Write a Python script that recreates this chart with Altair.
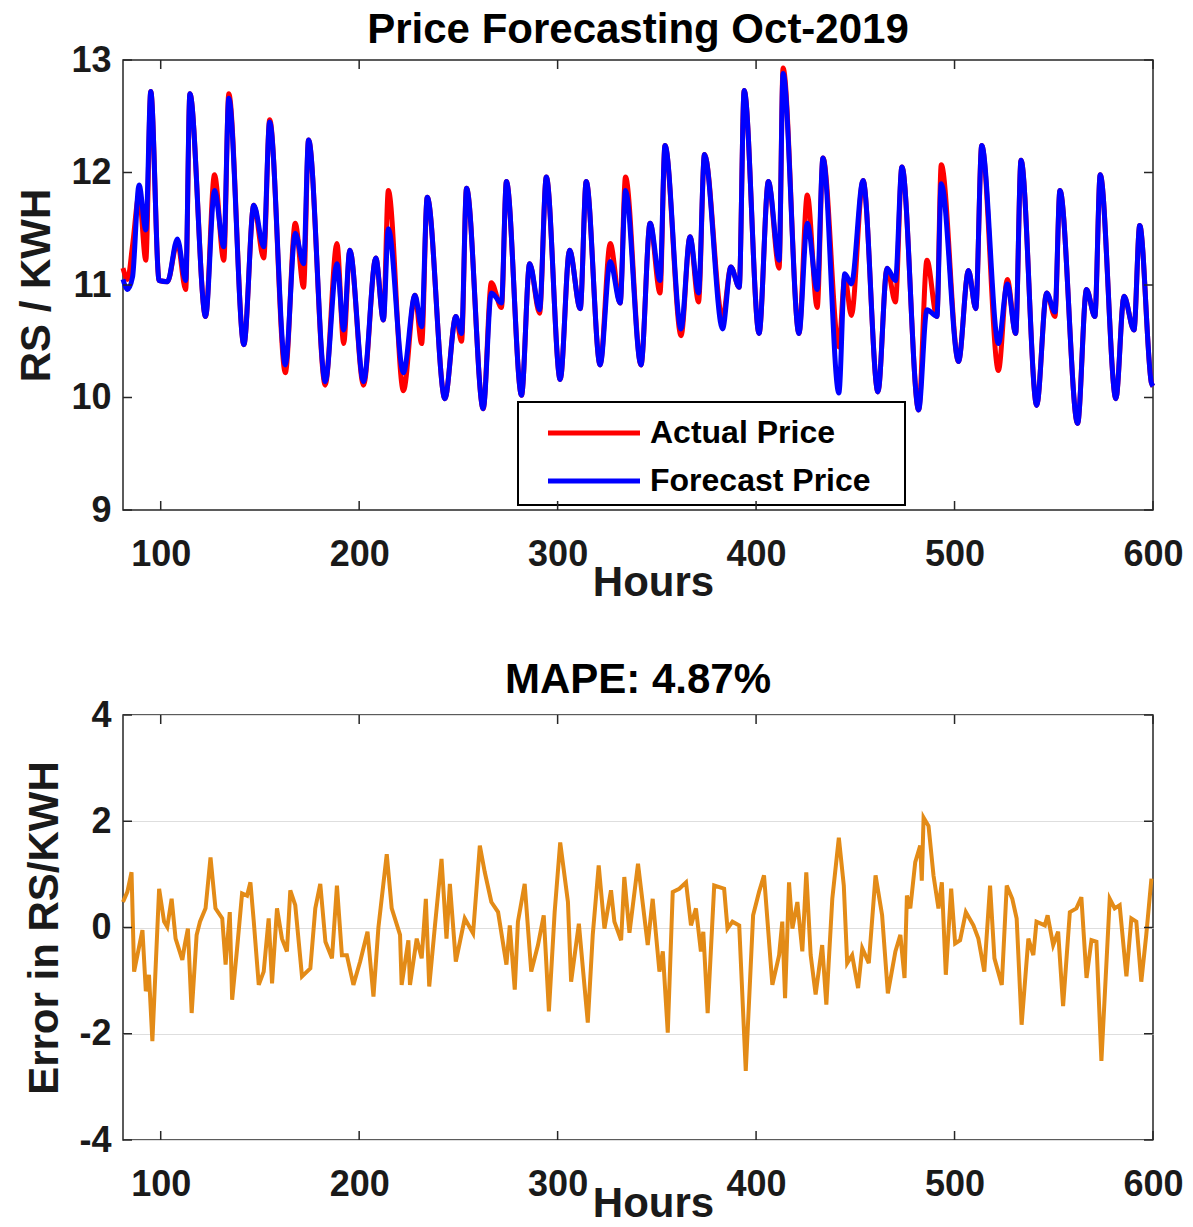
import altair as alt
import pandas as pd

# ---------------- data ----------------
price_hours = [81, 83.3, 85.8, 89.1, 92.5, 95, 99.2, 103.4, 108.4, 112.6, 114.7, 122.6, 127.1, 131.8, 134.3,
               141.9, 146.9, 151.9, 154.9, 162.8, 167.8, 172, 174.5, 182.9, 188.8, 192.2, 195.3, 202.2, 208.4,
               212.2, 214.7, 222.3, 228.1, 231.5, 234.3, 243.2, 248.7, 251.6, 254.1, 262.5, 266.6, 271.7, 274.2,
               281.8, 285.9, 290.9, 294.3, 301.3, 306, 311.4, 314.4, 321.4, 326.5, 331.5, 334.2, 342, 346.6,
               351.6, 354.1, 362.2, 366.7, 371.0, 374.0, 383.1, 387.3, 391.5, 394, 401.5, 406.2, 411.6, 413.6,
               421.6, 425.8, 430.8, 433.7, 441.7, 444.7, 448, 453.9, 461.4, 466, 470.2, 473.5, 481.9, 486.1,
               491.1, 493.3, 502, 507, 510.7, 513.7, 522.1, 526.6, 530.8, 533.5, 541.4, 546.4, 550.6, 553.1,
               562, 566.5, 570.7, 573.4, 581.3, 585.4, 590.4, 593.3, 599.2, 600]
forecast_price = [11.05, 10.96, 11.07, 11.89, 11.49, 12.72, 11.04, 11.03, 11.41, 11.04, 12.70, 10.72, 11.84, 11.34, 12.66,
                  10.47, 11.71, 11.34, 12.45, 10.29, 11.46, 11.19, 12.29, 10.14, 11.19, 10.60, 11.31, 10.14, 11.24,
                  10.69, 11.50, 10.22, 10.91, 10.63, 11.78, 9.99, 10.72, 10.57, 11.86, 9.90, 10.93, 10.84, 11.92,
                  10.02, 11.19, 10.78, 11.96, 10.16, 11.31, 10.79, 11.92, 10.29, 11.21, 10.84, 11.84, 10.29, 11.55,
                  11.04, 12.24, 10.61, 11.43, 10.93, 12.16, 10.61, 11.16, 10.98, 12.73, 10.57, 11.92, 11.22, 12.88,
                  10.57, 11.55, 10.96, 12.13, 10.04, 11.10, 11.01, 11.93, 10.05, 11.15, 11.04, 12.05, 9.89, 10.78,
                  10.72, 11.90, 10.32, 11.13, 10.79, 12.24, 10.48, 11.01, 10.57, 12.11, 9.93, 10.93, 10.76, 11.84,
                  9.77, 10.96, 10.72, 11.98, 9.99, 10.90, 10.60, 11.53, 10.13, 10.10]
actual_price = [11.15, 11.05, 11.35, 11.80, 11.22, 12.72, 11.04, 11.03, 11.38, 10.96, 12.70, 10.72, 11.98, 11.22, 12.70,
                10.47, 11.71, 11.24, 12.47, 10.22, 11.55, 10.98, 12.29, 10.11, 11.37, 10.48, 11.31, 10.11, 11.24,
                10.69, 11.84, 10.06, 10.91, 10.48, 11.78, 9.99, 10.72, 10.50, 11.86, 9.90, 11.02, 10.80, 11.92,
                10.02, 11.19, 10.75, 11.96, 10.16, 11.31, 10.79, 11.92, 10.29, 11.37, 10.84, 11.96, 10.29, 11.55,
                10.93, 12.24, 10.55, 11.43, 10.85, 12.16, 10.70, 11.16, 10.98, 12.73, 10.57, 11.92, 11.15, 12.93,
                10.57, 11.80, 10.80, 12.13, 10.45, 11.07, 10.73, 11.93, 10.05, 11.15, 10.85, 12.05, 9.89, 11.22,
                10.72, 12.07, 10.32, 11.13, 10.79, 12.24, 10.24, 11.05, 10.57, 12.11, 9.93, 10.93, 10.72, 11.84,
                9.77, 10.96, 10.72, 11.98, 9.99, 10.90, 10.60, 11.53, 10.13, 10.10]

error_hours = [81, 83.2, 85.3, 86.6, 90.8, 92.5, 94.1, 95.8, 99.2, 101.7, 103.3, 105.5, 107.5, 110.9, 112.1, 113.7,
               115.6, 118.1, 119.8, 122.6, 125.1, 127.6, 131.0, 132.7, 134.8, 136.0, 138.5, 141.0, 143.5, 145.2,
               146.9, 149.4, 151.9, 154.4, 156.1, 158.6, 161.1, 163.6, 165.3, 167.8, 171.2, 175.4, 177.9, 180.4,
               183.0, 186.3, 188.8, 191.3, 193.8, 197.1, 200.5, 204.2, 207.2, 209.7, 213.9, 216.4, 220.6, 221.4,
               224.8, 225.6, 229.0, 231.5, 233.6, 235.3, 238.2, 241.5, 244.0, 245.7, 248.7, 253.2, 257.4, 260.8,
               263.3, 266.6, 270.0, 274.2, 275.9, 278.4, 280.0, 283.4, 286.7, 290.1, 293.0, 295.6, 298.5, 301.3,
               305.2, 306.8, 310.7, 315.2, 317.7, 320.7, 323.6, 326.9, 328.6, 332.0, 333.6, 336.2, 340.5, 345.4,
               347.9, 351.3, 353.0, 355.5, 358.0, 361.3, 364.7, 367.2, 369.7, 372.2, 373.4, 375.6, 378.9, 383.9,
               385.6, 388.1, 391.5, 394.8, 398.5, 401.5, 404.0, 408.2, 411.6, 413.2, 414.6, 416.6, 418.3, 420.8,
               423.3, 425.3, 427.5, 430.0, 433.3, 435.4, 438.4, 441.7, 444.2, 445.9, 448.4, 451.4, 453.5, 456.8,
               460.2, 463.5, 466.4, 470.2, 472.7, 474.8, 476.0, 477.7, 480.2, 482.7, 483.5, 484.4, 486.9, 489.4,
               491.9, 493.6, 495.6, 498.3, 500.3, 502.8, 505.7, 509.5, 512.0, 515.0, 517.9, 520.1, 523.8, 526.3,
               529.1, 531.3, 533.8, 537.2, 539.7, 541.3, 545.5, 546.9, 549.7, 552.2, 554.7, 558.1, 561.4, 563.9,
               566.5, 569.0, 571.5, 574.0, 578.2, 580.7, 583.2, 586.6, 589.1, 591.6, 594.1, 596.6, 599.2]
error_values = [0.48, 0.67, 1.04, -0.83, -0.05, -1.20, -0.89, -2.14, 0.73, 0.11, 0.01, 0.54, -0.21, -0.61, -0.33, -0.02,
                -1.61, -0.14, 0.11, 0.36, 1.32, 0.36, 0.17, -0.70, 0.29, -1.36, -0.39, 0.64, 0.60, 0.85,
                0.11, -1.08, -0.83, 0.17, -1.05, 0.36, -0.21, -0.45, 0.70, 0.42, -0.92, -0.77, 0.36, 0.82,
                -0.27, -0.58, 0.79, -0.52, -0.52, -1.08, -0.64, -0.08, -1.30, 0.00, 1.38, 0.36, -0.14, -1.08,
                -0.24, -1.08, -0.21, -0.58, 0.54, -1.11, 0.04, 1.29, -0.21, 0.82, -0.64, 0.17, -0.11, 1.54,
                1.04, 0.48, 0.29, -0.70, 0.04, -1.17, 0.11, 0.82, -0.83, -0.33, 0.23, -1.58, 0.29, 1.60,
                0.48, -1.02, 0.07, -1.79, -0.14, 1.17, -0.02, 0.70, 0.11, -0.24, 0.95, -0.10, 1.20, -0.33,
                0.54, -0.83, -0.45, -1.98, 0.67, 0.73, 0.85, 0.04, 0.36, -0.45, -0.08, -1.61, 0.79, 0.73,
                -0.02, 0.11, 0.04, -2.70, 0.23, 0.67, 0.98, -1.08, -0.52, 0.11, -1.33, 0.85, -0.02, 0.48,
                -0.45, 1.04, -0.52, -1.26, -0.33, -1.45, 0.54, 1.69, 0.79, -0.67, -0.52, -1.14, -0.39, -0.67,
                0.98, 0.23, -1.24, -0.45, -0.14, -0.95, 0.60, 0.36, 1.23, 1.54, 0.88, 2.07, 1.91, 0.98,
                0.36, 0.85, -0.89, 0.73, -0.30, -0.24, 0.29, 0.04, -0.21, -0.83, 0.79, -0.58, -1.08, 0.79,
                0.54, 0.17, -1.83, -0.21, -0.52, 0.11, 0.04, 0.23, -0.33, -0.08, -1.48, 0.29, 0.36, 0.57,
                -0.95, -0.24, -0.27, -2.51, 0.54, 0.36, 0.42, -0.92, 0.17, 0.11, -1.02, -0.14, 0.92]

x_ticks = [100, 200, 300, 400, 500, 600]
price_ticks = [9, 10, 11, 12, 13]
error_ticks = [-4, -2, 0, 2, 4]
series_names = ["Actual Price", "Forecast Price"]
series_colors = ["#FF0000", "#0000FF"]
error_color = "#E38B17"

# ---------------- style ----------------
FONT = "Liberation Sans"
TXT = "#1a1a1a"
FRAME = "#262626"
W = 1030
H1 = 450
H2 = 425
TICK = 9

price_df = pd.concat([
    pd.DataFrame({"hour": price_hours, "price": actual_price, "series": series_names[0]}),
    pd.DataFrame({"hour": price_hours, "price": forecast_price, "series": series_names[1]}),
])
err_df = pd.DataFrame({"hour": error_hours, "error": error_values})
xt_df = pd.DataFrame({"hour": x_ticks})
pt_df = pd.DataFrame({"price": price_ticks})
et_df = pd.DataFrame({"error": error_ticks})
leg_df = pd.DataFrame({"series": series_names, "color": series_colors})

xscale = alt.Scale(domain=[81, 600], nice=False, zero=False)
pscale = alt.Scale(domain=[9, 13], nice=False, zero=False)
escale = alt.Scale(domain=[-4, 4], nice=False, zero=False)
cscale = alt.Scale(domain=series_names, range=series_colors)

HYPHEN = "datum.value < 0 ? '-' + format(abs(datum.value), 'd') : format(datum.value, 'd')"


def x_axis(title_y):
    return alt.Axis(values=x_ticks, ticks=False, domain=False, grid=False, labelFont=FONT,
                    labelFontSize=36, labelFontWeight="bold", labelColor=TXT, labelPadding=27,
                    labelFlush=False, title="Hours", titleFont=FONT, titleFontSize=42,
                    titleFontWeight="bold", titleColor=TXT, titleX=530, titleY=title_y)


def y_axis(title, values, grid):
    return alt.Axis(values=values, ticks=False, domain=False, grid=grid, gridColor="#dedede",
                    gridWidth=1, labelFont=FONT, labelFontSize=36, labelFontWeight="bold",
                    labelColor=TXT, labelPadding=12, labelExpr=HYPHEN, title=title, titleFont=FONT,
                    titleFontSize=42, titleFontWeight="bold", titleColor=TXT, titlePadding=12)


def panel(main_layers, yfield, tdf_y, yscale, xax, yax, h, title, offset):
    bx = alt.Chart(xt_df).mark_rule(color=FRAME, strokeWidth=1.5).encode(
        x=alt.X("hour:Q", scale=xscale, axis=xax), y=alt.value(h), y2=alt.value(h - TICK))
    tx = alt.Chart(xt_df).mark_rule(color=FRAME, strokeWidth=1.5).encode(
        x=alt.X("hour:Q", scale=xscale, axis=xax), y=alt.value(0), y2=alt.value(TICK))
    ly = alt.Chart(tdf_y).mark_rule(color=FRAME, strokeWidth=1.5).encode(
        y=alt.Y(f"{yfield}:Q", scale=yscale, axis=yax), x=alt.value(0), x2=alt.value(TICK))
    ry = alt.Chart(tdf_y).mark_rule(color=FRAME, strokeWidth=1.5).encode(
        y=alt.Y(f"{yfield}:Q", scale=yscale, axis=yax), x=alt.value(W), x2=alt.value(W - TICK))
    return alt.layer(*main_layers, bx, tx, ly, ry).properties(
        width=W, height=h,
        title=alt.TitleParams(title, font=FONT, fontSize=42, fontWeight="bold",
                              color="#000000", offset=offset, anchor="middle"))


# ---------------- top panel ----------------
x_top = x_axis(52)
y_top = y_axis("RS / KWH", price_ticks, False)
price_lines = []
for name in series_names:
    price_lines.append(alt.Chart(price_df).transform_filter(
        alt.datum.series == name).mark_line(strokeWidth=5, interpolate="monotone").encode(
        x=alt.X("hour:Q", scale=xscale, axis=x_top),
        y=alt.Y("price:Q", scale=pscale, axis=y_top),
        color=alt.Color("series:N", scale=cscale, legend=None)))

# legend box (MATLAB style, inside plot)
LX0, LX1, LY0, LY1 = 395, 782, 342, 445
leg_box = alt.Chart(leg_df.head(1)).mark_rect(fill="white", stroke="#000000", strokeWidth=2).encode(
    x=alt.value(LX0), x2=alt.value(LX1), y=alt.value(LY0), y2=alt.value(LY1))
leg_rows = []
for i, name in enumerate(series_names):
    yy = 373 + 48 * i
    row = leg_df[leg_df.series == name]
    leg_rows.append(alt.Chart(row).mark_rule(strokeWidth=5).encode(
        x=alt.value(425), x2=alt.value(517), y=alt.value(yy),
        color=alt.Color("series:N", scale=cscale, legend=None)))
    leg_rows.append(alt.Chart(row).mark_text(font=FONT, fontSize=32, fontWeight="bold", color="#000000",
                                             align="left", baseline="middle").encode(
        x=alt.value(527), y=alt.value(yy), text="series:N"))

top = panel(price_lines + [leg_box] + leg_rows, "price", pt_df, pscale, x_top, y_top, H1,
            "Price Forecasting Oct-2019", -10)

# ---------------- bottom panel ----------------
x_bot = x_axis(43)
y_bot = y_axis("Error in RS/KWH", error_ticks, True)
err_line = alt.Chart(err_df).mark_line(strokeWidth=4, color=error_color).encode(
    x=alt.X("hour:Q", scale=xscale, axis=x_bot),
    y=alt.Y("error:Q", scale=escale, axis=y_bot))

bottom = panel([err_line], "error", et_df, escale, x_bot, y_bot, H2, "MAPE: 4.87%", -5)

chart = alt.vconcat(top, bottom, spacing=54).properties(
    padding={"left": 15, "top": 8, "right": 0, "bottom": 0},
    background="white",
).configure_view(stroke=FRAME, strokeWidth=1.5)

chart.save("out.html", embed_options={"renderer": "svg", "actions": False})
